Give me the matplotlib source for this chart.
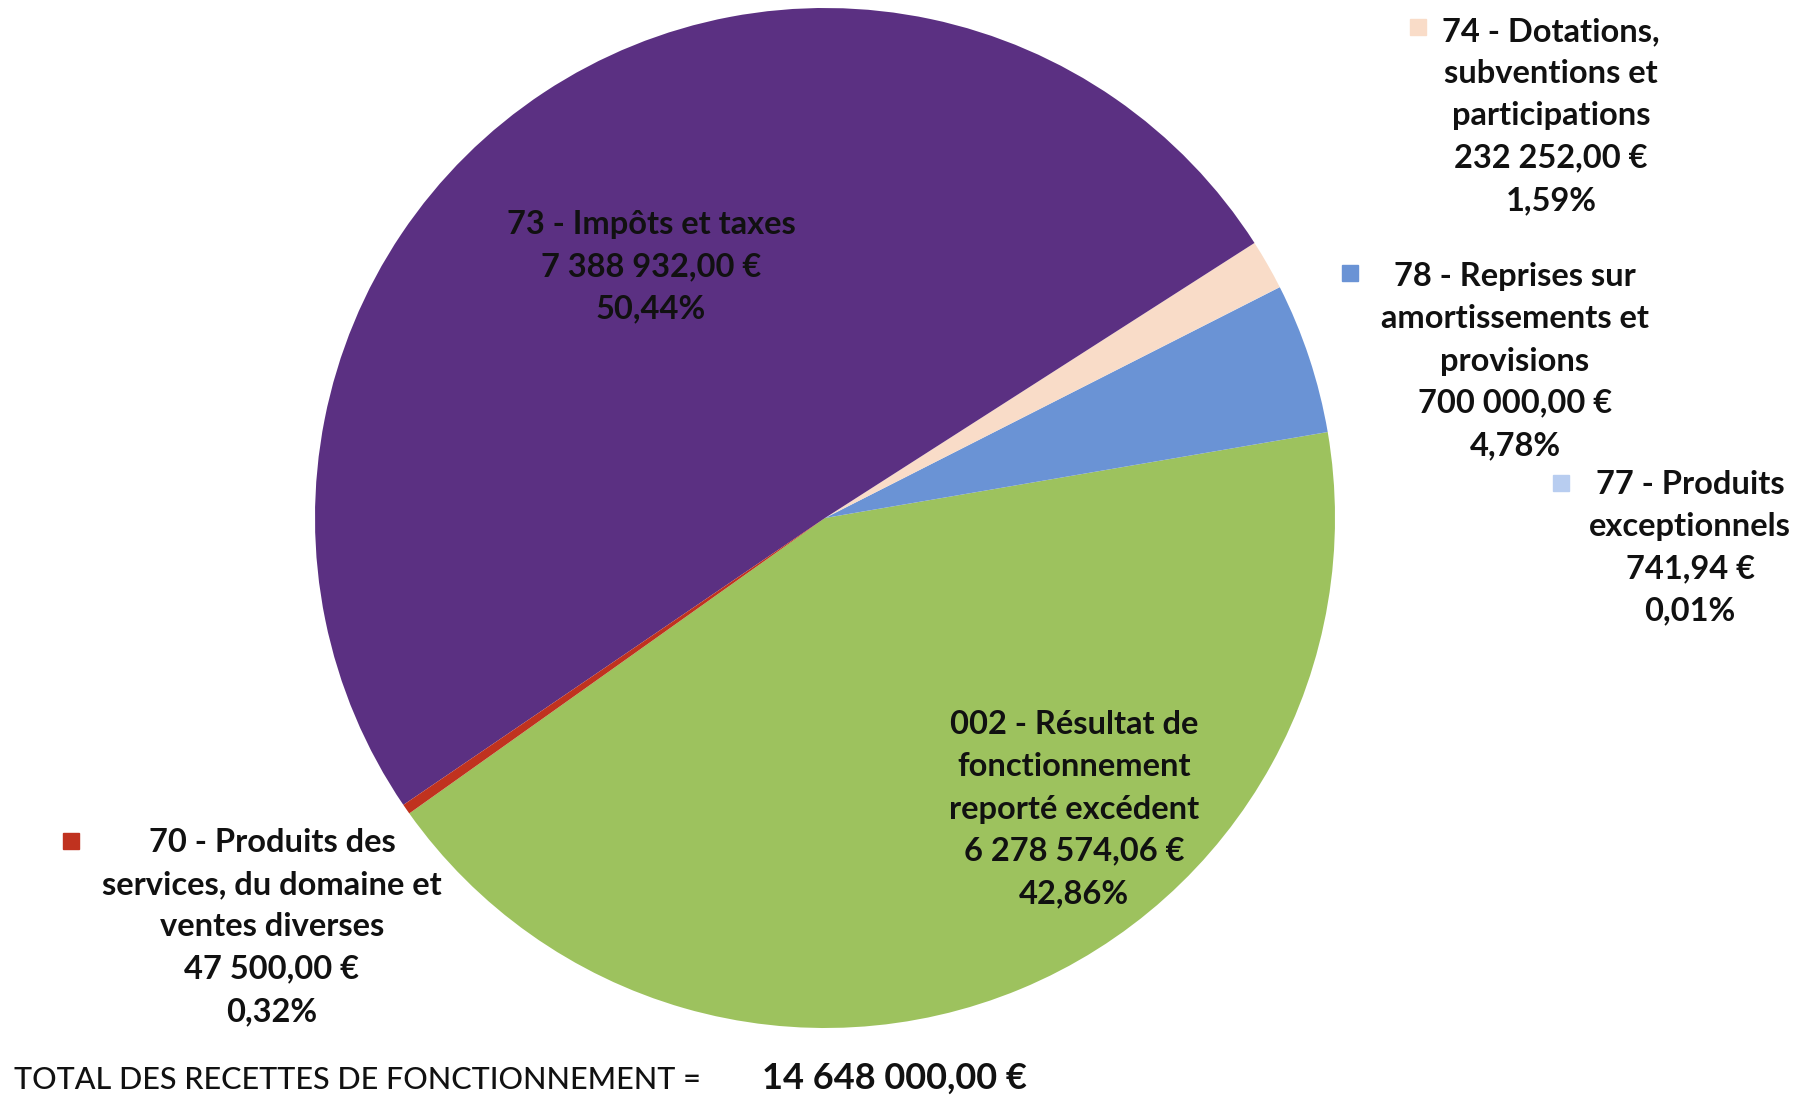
import matplotlib.pyplot as plt

# recettes de fonctionnement (ordre anti-horaire a partir du bas gauche)
codes = ["002", "78", "77", "74", "73", "70"]
names = ["Résultat de\nfonctionnement\nreporté excédent",
         "Reprises sur\namortissements et\nprovisions",
         "Produits\nexceptionnels",
         "Dotations,\nsubventions et\nparticipations",
         "Impôts et taxes",
         "Produits des\nservices, du domaine et\nventes diverses"]
amounts = ["6 278 574,06 €", "700 000,00 €", "741,94 €", "232 252,00 €",
           "7 388 932,00 €", "47 500,00 €"]
values = [6278574.06, 700000.00, 741.94, 232252.00, 7388932.00, 47500.00]
percents = ["42,86%", "4,78%", "0,01%", "1,59%", "50,44%", "0,32%"]
colors = ["#9dc25e", "#6a93d5", "#b8cdf0", "#f9dcc8", "#5b3082", "#c0321f"]
total = "14 648 000,00 €"

W, H = 1797, 1096
fig = plt.figure(figsize=(W / 100, H / 100), dpi=100)
ax = fig.add_axes([0, 0, 1, 1])

ax.pie(values, colors=colors, startangle=215.4, counterclock=True,
       center=(825, H - 518), radius=510, frame=True,
       wedgeprops={"linewidth": 0})
ax.set_xlim(0, W)
ax.set_ylim(0, H)
ax.set_aspect("equal")
ax.axis("off")

font = dict(family="Lato", fontweight="bold", fontsize=23.5, color="#111111",
            ha="center", va="center", linespacing=1.55)

def label(i, x, y):
    txt = f"{codes[i]} - {names[i]}\n{amounts[i]}\n{percents[i]}"
    ax.text(x, H - y, txt, **font)

# positions des etiquettes (centre du bloc, pixels image)
label(4, 651, 267)
label(0, 1074, 809)
label(3, 1551, 116)
label(1, 1515, 361)
label(2, 1690, 548)
label(5, 272, 927)

# petits carres de legende
for i, (x, y) in zip([3, 1, 2, 5], [(1418, 27), (1350, 273), (1561, 483), (71, 841)]):
    ax.plot(x, H - y, marker="s", markersize=12, color=colors[i], linestyle="none")

ax.text(14, H - 1080, "TOTAL DES RECETTES DE FONCTIONNEMENT =", family="Lato",
        fontweight="medium", fontsize=22, color="#111111", ha="left", va="center")
ax.text(762, H - 1078, total, family="Lato", fontweight="bold", fontsize=26,
        color="#111111", ha="left", va="center")

fig.savefig("out.png", dpi=100)
